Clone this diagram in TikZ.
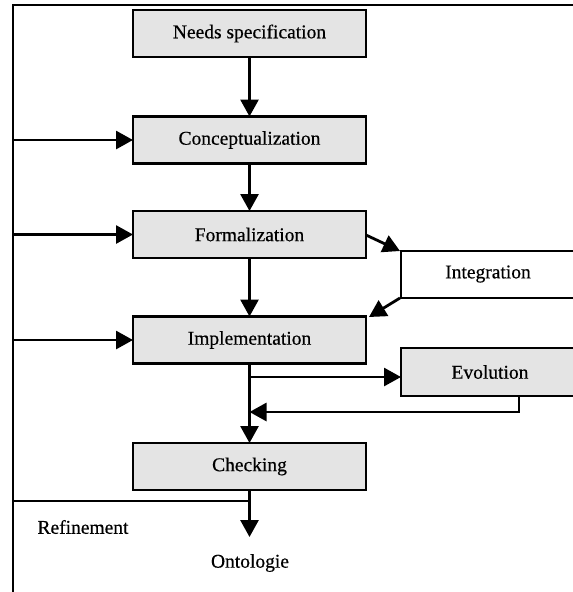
\documentclass[tikz,border=0pt]{standalone}
\usepackage{fontspec}
\setmainfont[FakeBold=0.5]{Liberation Serif}
\usetikzlibrary{arrows.meta}
\definecolor{boxgray}{RGB}{228,228,228}
\begin{document}
\begin{tikzpicture}[x=1pt,y=-1pt,
  stage/.style={draw=black, line width=2.8pt, fill=boxgray, minimum width=233pt,
    minimum height=47pt, inner sep=0pt, outer sep=0pt, font=\fontsize{19.5}{22}\selectfont},
  label/.style={inner sep=0pt, font=\fontsize{19.5}{22}\selectfont},
  flow/.style={line width=2.8pt, -{Triangle[length=17pt,width=18pt]}},
  rule/.style={line width=2.6pt}
]
\clip (0,0) rectangle (573,592);
\fill[white] (0,0) rectangle (573,592);

% main stages
\node[stage] (needs)   at (249.5,33.5)  {Needs specification};
\node[stage] (concept) at (249.5,140)   {Conceptualization};
\node[stage] (form)    at (249.5,234.5) {Formalization};
\node[stage] (impl)    at (249.5,340)   {Implementation};
\node[stage] (check)   at (249.5,466.5) {Checking};

% side activities
\fill[boxgray] (401,348) rectangle (590,396);
\draw[line width=2.8pt] (590,348) -- (401,348) -- (401,396) -- (590,396);
\node[label] (evo) at (490,372) {Evolution};

\draw[line width=2.2pt] (590,251) -- (401,251) -- (401,298) -- (590,298);
\node[label] (integ) at (488,274) {Integration};

% texts below
\node[label] (refine) at (83,527) {Refinement};
\node[label] (onto)   at (250,563) {Ontologie};

% helper points
\coordinate (frameB) at (13,592);
\coordinate (frameT) at (13,5);
\coordinate (frameR) at (580,5);
\coordinate (lc) at (13,140);
\coordinate (lf) at (13,234.5);
\coordinate (li) at (13,340);
\coordinate (intTop) at (400,251);
\coordinate (intBot) at (400,298);
\coordinate (implCorner) at (369,317);
\coordinate (formOut) at (366,235);
\coordinate (branch) at (249.5,377);
\coordinate (evoW) at (401,377);
\coordinate (evoS) at (519,396);
\coordinate (retCorner) at (519,412);
\coordinate (join) at (249.5,412);
\coordinate (ontoTop) at (249.5,537);
\coordinate (refR) at (249.5,501);
\coordinate (refL) at (13,501);

% outer loop frame
\draw[rule, line cap=rect] (frameB) -- (frameT) -- (frameR);
\draw[line width=1.8pt] (refR) -- (refL);

% feedback arrows
\draw[flow] (lc) -- (concept.west);
\draw[flow] (lf) -- (form.west);
\draw[flow] (li) -- (impl.west);

% main flow
\draw[flow] (needs.south) -- (concept.north);
\draw[flow] (concept.south) -- (form.north);
\draw[flow] (form.south) -- (impl.north);
\draw[flow] (impl.south) -- (check.north);
\draw[flow] (check.south) -- (ontoTop);

% integration loop
\draw[flow] (formOut) -- (intTop);
\draw[flow] (intBot) -- (implCorner);

% evolution loop
\draw[flow] (branch) -- (evoW);
\draw[flow] (evoS) -- (retCorner) -- (join);
\end{tikzpicture}
\end{document}
